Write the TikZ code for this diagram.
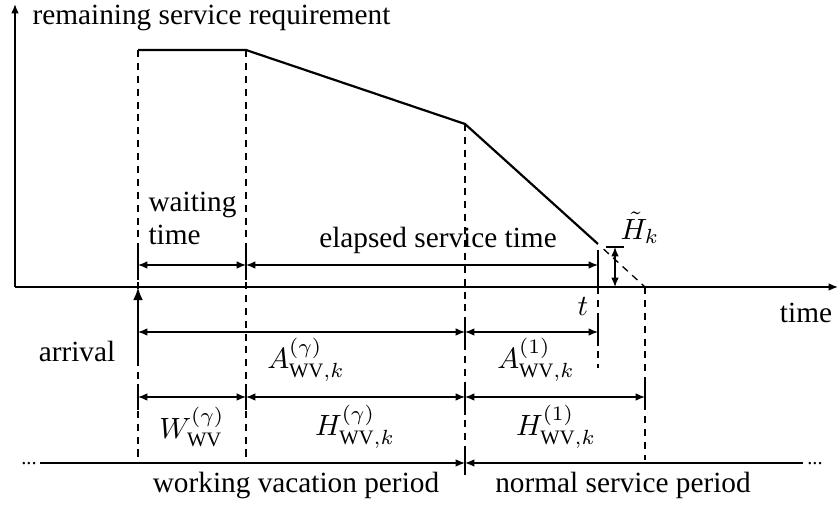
\documentclass[tikz,border=0pt]{standalone}
\usepackage{fontspec}
\setmainfont{Liberation Serif}
\usetikzlibrary{arrows.meta,calc}

\begin{document}
\begin{tikzpicture}[x=0.12cm, y=0.12cm, >={Latex[length=3.2pt,width=2.6pt]},
                    dim/.style={<->, line width=0.45pt},
                    guide/.style={line width=0.45pt, dash pattern=on 2.4pt off 2pt},
                    tick/.style={line width=0.5pt},
                    curve/.style={line width=0.75pt},
                    every node/.style={font=\fontsize{10}{12}\selectfont, inner sep=0pt}]

  \useasboundingbox (0,0) rectangle (83.9,51);

  % axes
  \coordinate (O) at (1.5,22.3);
  \coordinate (ytop) at (1.5,50.6);
  \coordinate (xend) at (83.8,22.3);
  \draw[->, line width=0.5pt] (O) -- (ytop);
  \draw[->, line width=0.5pt] (O) -- (xend);
  \node[anchor=base west] (req) at (3.2,48.5) {remaining service requirement};
  \node[anchor=base] (time) at (80.6,18.7) {time};

  % remaining service requirement
  \coordinate (s0) at (13.8,46.0);
  \coordinate (s1) at (24.6,46.0);
  \coordinate (s2) at (46.5,38.6);
  \coordinate (s3) at (59.8,26.6);
  \coordinate (s4) at (64.5,22.3);
  \draw[curve] (s0) -- (s1) -- (s2) -- (s3);
  \draw[guide] ($(s3)!0.12!(s4)$) -- (s4);

  % rows of the dimension lines
  \coordinate (r1) at (0,24.5);
  \coordinate (r2) at (0,17.8);
  \coordinate (r3) at (0,11.3);
  \coordinate (r4) at (0,4.7);

  % dashed guides
  \draw[guide] (s0) -- (s0|-r4);
  \draw[guide] (s1) -- (s1|-r4);
  \draw[guide] (s2) -- (s2|-r4);
  \draw[guide] (s3|-O) -- ($(s3|-r2)+(0,-3.6)$);
  \draw[guide] (s4) -- ($(s4|-r4)+(0,0.3)$);

  % ticks
  \foreach \p in {s0,s1} \draw[tick] (\p|-r1) ++(0,-1.5) -- ++(0,3);
  \draw[tick] (s3|-O) -- ++(0,3.7);
  \foreach \p in {s2,s3} \draw[tick] (\p|-r2) ++(0,-1.4) -- ++(0,2.8);
  \foreach \p in {s0,s1,s2,s4} \draw[tick] (\p|-r3) ++(0,-1.3) -- ++(0,2.6);
  \draw[tick] (s2|-r4) ++(0,-1.2) -- ++(0,2.5);

  % first row
  \draw[dim] (s0|-r1) -- (s1|-r1);
  \draw[dim] (s1|-r1) -- (s3|-r1);
  \node[anchor=base west] (wait) at (14.8,29.8) {waiting};
  \node[anchor=base west] (waitb) at (14.8,26.5) {time};
  \node[anchor=base] (elapsed) at (43.8,26.2) {elapsed service time};

  % remaining part
  \coordinate (ht) at (61.5,26.3);
  \coordinate (hb) at (61.5,22.3);
  \draw[tick] ($(ht)+(-0.9,0)$) -- ($(ht)+(0.9,0)$);
  \draw[line width=0.9pt] ($(hb)+(-0.9,0)$) -- ($(hb)+(0.9,0)$);
  \draw[dim] (ht) -- (hb);
  \node[anchor=south west] (htilde) at (62.0,26.6) {$\tilde{H}_k$};

  % arrival
  \draw[->, line width=0.9pt, >={Latex[length=4.5pt,width=3.4pt]}] (13.8,15.0) -- (s0|-O);
  \node[anchor=base] (arrival) at (7.7,14.8) {arrival};
  \node (t) at (58.3,20.3) {$t$};

  % second row
  \draw[dim] (s0|-r2) -- (s2|-r2);
  \draw[dim] (s2|-r2) -- (s3|-r2);
  \node (Ag) at (30.6,15.0) {$A^{(\gamma)}_{\mathrm{WV},k}$};
  \node (A1) at (53.6,15.0) {$A^{(1)}_{\mathrm{WV},k}$};

  % third row
  \draw[dim] (s0|-r3) -- (s1|-r3);
  \draw[dim] (s1|-r3) -- (s2|-r3);
  \draw[dim] (s2|-r3) -- (s4|-r3);
  \node (Wg) at (19.2,8.3) {$W^{(\gamma)}_{\mathrm{WV}}$};
  \node (Hg) at (35.5,8.3) {$H^{(\gamma)}_{\mathrm{WV},k}$};
  \node (H1) at (55.6,8.3) {$H^{(1)}_{\mathrm{WV},k}$};

  % periods
  \coordinate (pl) at (4.0,4.7);
  \coordinate (pr) at (80.3,4.7);
  \draw[->, line width=0.5pt] (pl) -- (s2|-r4);
  \draw[->, line width=0.5pt] (pr) -- (s2|-r4);
  \node[anchor=base, font=\scriptsize] (dl) at (2.9,4.5) {...};
  \node[anchor=base, font=\scriptsize] (dr) at (81.5,4.5) {...};
  \node[anchor=base] (wvp) at (29.6,1.7) {working vacation period};
  \node[anchor=base] (nsp) at (62.3,1.7) {normal service period};

\end{tikzpicture}
\end{document}
